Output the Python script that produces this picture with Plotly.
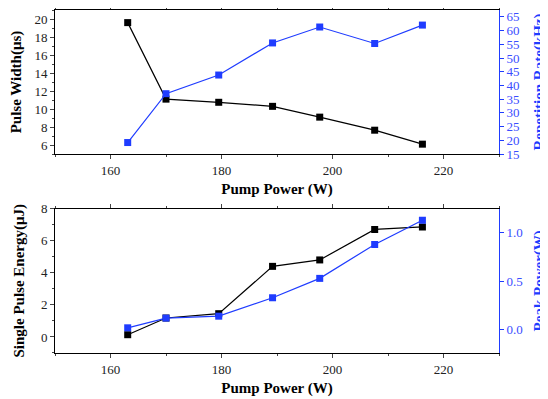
import plotly.graph_objects as go

pump_power = [163.1, 170.0, 179.5, 189.2, 197.7, 207.6, 216.2]
pulse_width = [19.6, 11.1, 10.75, 10.3, 9.1, 7.65, 6.1]
rep_rate = [19.2, 37.0, 43.8, 55.5, 61.3, 55.3, 62.0]
pulse_energy = [0.14, 1.18, 1.45, 4.4, 4.8, 6.7, 6.86]
peak_power = [0.02, 0.12, 0.14, 0.33, 0.53, 0.88, 1.13]

BLUE = "#1f3cff"
BLUE_TXT = "#3a4dff"
FONT = "Liberation Serif"

fig = go.Figure()

mk = dict(symbol="square", size=7)
fig.add_trace(go.Scatter(x=pump_power, y=pulse_width, mode="lines+markers",
                         line=dict(color="black", width=1.2), marker=dict(color="black", **mk),
                         xaxis="x", yaxis="y"))
fig.add_trace(go.Scatter(x=pump_power, y=rep_rate, mode="lines+markers",
                         line=dict(color=BLUE, width=1.2), marker=dict(color=BLUE, **mk),
                         xaxis="x", yaxis="y2"))
fig.add_trace(go.Scatter(x=pump_power, y=pulse_energy, mode="lines+markers",
                         line=dict(color="black", width=1.2), marker=dict(color="black", **mk),
                         xaxis="x2", yaxis="y3"))
fig.add_trace(go.Scatter(x=pump_power, y=peak_power, mode="lines+markers",
                         line=dict(color=BLUE, width=1.2), marker=dict(color=BLUE, **mk),
                         xaxis="x2", yaxis="y4"))

tickfont = dict(family=FONT, size=13, color="#222")
titlefont = dict(family=FONT, size=15, color="black", weight="bold")
btitlefont = dict(family=FONT, size=15, color=BLUE, weight="bold")

xcommon = dict(range=[150, 230], tickvals=[160, 180, 200, 220], ticks="outside", ticklen=4,
               showline=True, linecolor="black", linewidth=1, mirror="ticks", showgrid=False,
               zeroline=False, tickfont=tickfont, automargin=False,
               minor=dict(ticks="outside", ticklen=2, dtick=10, tick0=150, showgrid=False),
               title=dict(text="Pump Power (W)", font=titlefont, standoff=6))

fig.update_layout(
    width=540, height=391, showlegend=False,
    paper_bgcolor="white", plot_bgcolor="white",
    margin=dict(l=47, r=49, t=2, b=46),
    xaxis=dict(domain=[0, 1], anchor="y", **xcommon),
    xaxis2=dict(domain=[0, 1], anchor="y3", **xcommon),
    yaxis=dict(domain=[0.58, 1], range=[5, 21], tickvals=[6, 8, 10, 12, 14, 16, 18, 20],
               ticks="outside", ticklen=4, showline=True, linecolor="black", linewidth=1,
               showgrid=False, zeroline=False, tickfont=tickfont, automargin=False,
               minor=dict(ticks="outside", ticklen=2, dtick=1, showgrid=False),
               title=dict(text="Pulse Width(μs)", font=titlefont, standoff=12)),
    yaxis2=dict(overlaying="y", side="right", anchor="x", range=[15, 67.5],
                tickvals=list(range(15, 66, 5)), ticks="outside", ticklen=4,
                showline=True, linecolor=BLUE, linewidth=1, tickcolor=BLUE,
                showgrid=False, zeroline=False, automargin=False,
                tickfont=dict(family=FONT, size=13, color=BLUE_TXT),
                title=dict(text="Repetition Rate(kHz)", font=btitlefont, standoff=16)),
    yaxis3=dict(domain=[0, 0.421], anchor="x2", range=[-1, 8], tickvals=[0, 2, 4, 6, 8],
                ticks="outside", ticklen=4, showline=True, linecolor="black", linewidth=1,
                showgrid=False, zeroline=False, tickfont=tickfont, automargin=False,
                minor=dict(ticks="outside", ticklen=2, dtick=1, showgrid=False),
                title=dict(text="Single Pulse Energy(μJ)", font=titlefont, standoff=12)),
    yaxis4=dict(overlaying="y3", side="right", anchor="x2", range=[-0.24, 1.25],
                tickvals=[0, 0.5, 1.0], ticktext=["0.0", "0.5", "1.0"], ticks="outside", ticklen=4,
                showline=True, linecolor=BLUE, linewidth=1, tickcolor=BLUE,
                showgrid=False, zeroline=False, automargin=False,
                tickfont=dict(family=FONT, size=13, color=BLUE_TXT),
                title=dict(text="Peak Power(W)", font=btitlefont, standoff=16)),
)

fig.write_html("out.html")
